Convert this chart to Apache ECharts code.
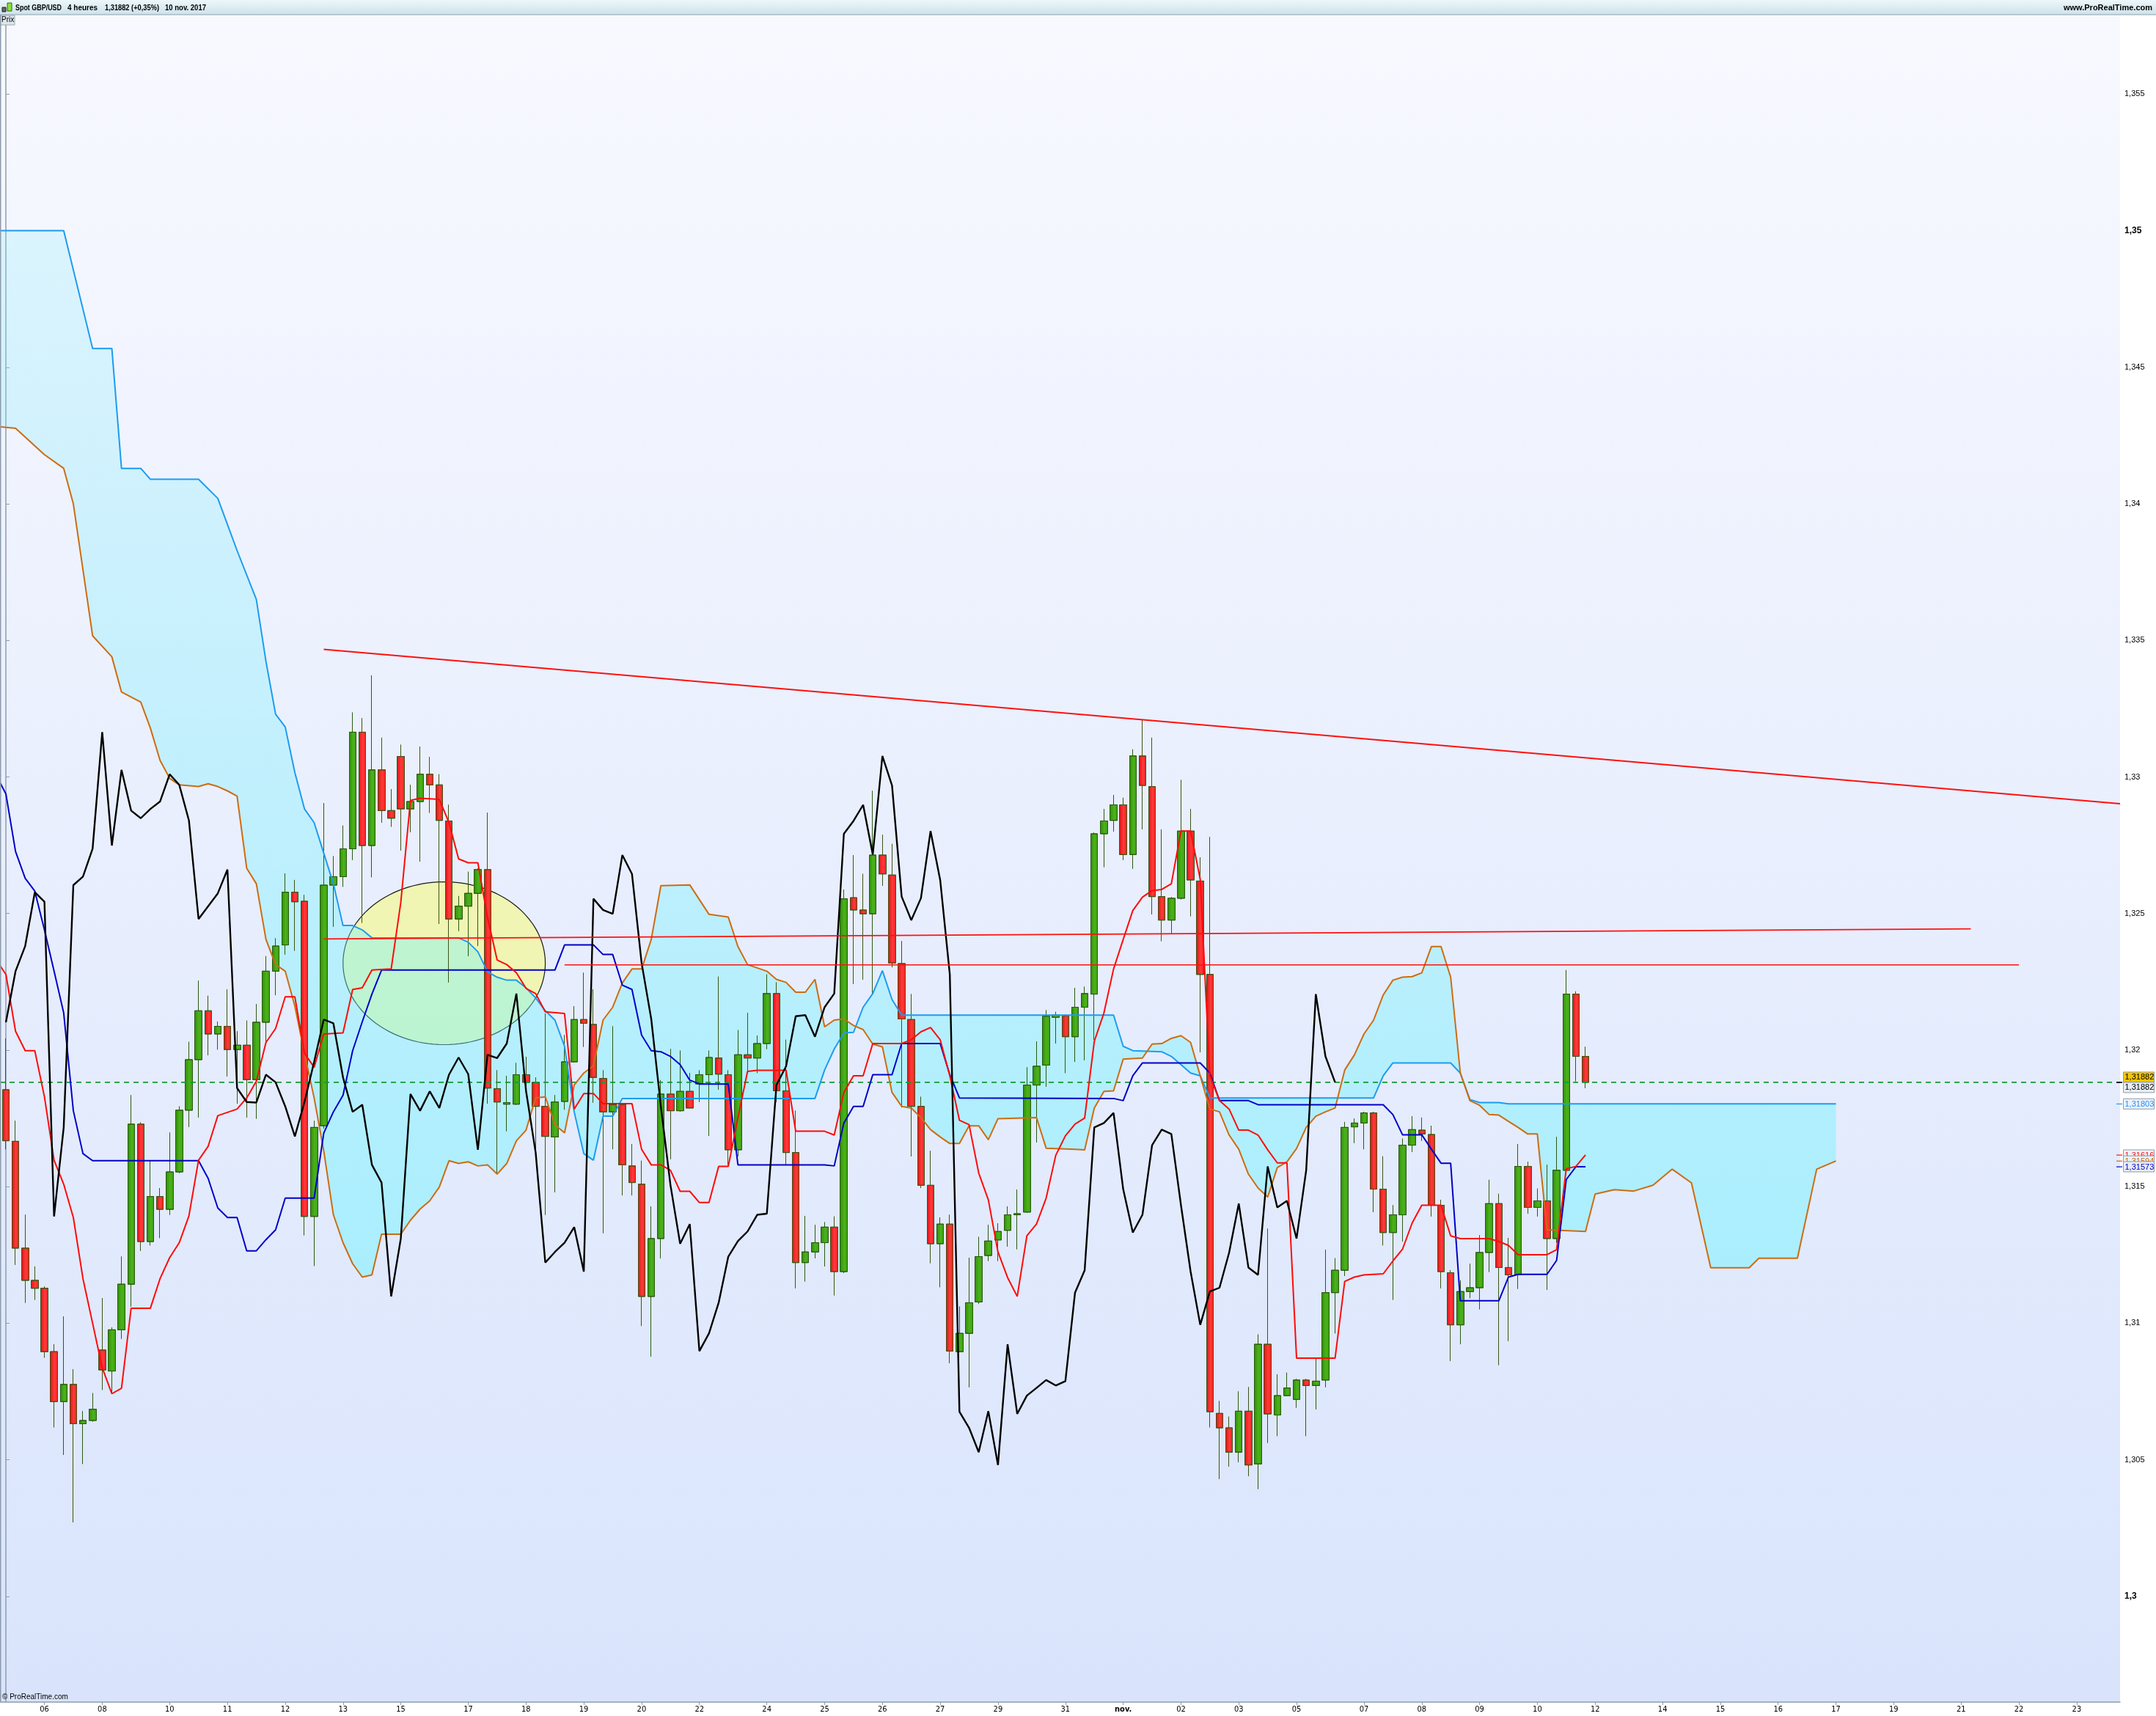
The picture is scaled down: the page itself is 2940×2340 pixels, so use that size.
<!DOCTYPE html>
<html><head><meta charset="utf-8">
<script src="https://cdn.jsdelivr.net/npm/echarts@6/dist/echarts.min.js"></script>
<style>html,body{margin:0;padding:0;background:#fff}#c{width:2940px;height:2340px}</style>
</head><body><div id="c"></div>
<script>
// ---------- DATA ----------
const opens = [1.31855,1.31666,1.31275,1.31157,1.31128,1.30896,1.30713,1.30776,1.30632,1.30644,
1.30902,1.30825,1.30976,1.31143,1.31729,1.31299,1.31464,1.31417,1.31554,1.31780,
1.31965,1.32144,1.32059,1.32087,1.32002,1.32018,1.31892,1.32102,1.32289,1.32385,
1.32578,1.32545,1.31391,1.31723,1.32604,1.32635,1.32737,1.33164,1.32749,1.33026,
1.32877,1.33075,1.32883,1.32910,1.33010,1.32971,1.32839,1.32480,1.32527,1.32574,
1.32661,1.31859,1.31802,1.31802,1.31910,1.31882,1.31794,1.31682,1.31812,1.31957,
1.32112,1.32094,1.31896,1.31774,1.31800,1.31576,1.31509,1.31098,1.31310,1.31839,
1.31778,1.31849,1.31876,1.31910,1.31971,1.31910,1.31635,1.31983,1.31971,1.32024,
1.32207,1.31851,1.31625,1.31222,1.31261,1.31295,1.31352,1.31189,1.32558,1.32513,
1.32499,1.32714,1.32641,1.32317,1.32112,1.31794,1.31505,1.31291,1.31363,1.30896,
1.30963,1.31078,1.31248,1.31305,1.31340,1.31397,1.31407,1.31872,1.31945,1.32120,
1.32126,1.32049,1.32157,1.32205,1.32792,1.32841,1.32898,1.32716,1.33077,1.32965,
1.32562,1.32476,1.32556,1.32802,1.32619,1.32277,1.30670,1.30617,1.30528,1.30678,
1.30485,1.30923,1.30664,1.30735,1.30721,1.30792,1.30772,1.30792,1.31112,1.31194,
1.31719,1.31733,1.31770,1.31491,1.31332,1.31397,1.31652,1.31707,1.31691,1.31432,
1.31185,1.30994,1.31116,1.31130,1.31259,1.31438,1.31204,1.31177,1.31574,1.31424,
1.31448,1.31310,1.31560,1.32205,1.31977];
const highs = [1.32043,1.31741,1.31397,1.31208,1.31135,1.30923,1.31025,1.30831,1.30678,1.30744,
1.31092,1.30985,1.31244,1.31835,1.31735,1.31597,1.31495,1.31698,1.31794,1.32030,
1.32254,1.32199,1.32104,1.32222,1.32069,1.32108,1.32169,1.32344,1.32409,1.32647,
1.32623,1.32568,1.31741,1.32904,1.32710,1.32822,1.33236,1.33215,1.33372,1.33144,
1.32955,1.33118,1.32971,1.33111,1.33073,1.33010,1.32898,1.32564,1.32653,1.32665,
1.32869,1.31926,1.31906,1.31953,1.31975,1.31900,1.32134,1.31835,1.32055,1.32161,
1.32283,1.32222,1.31926,1.32087,1.31805,1.31656,1.31595,1.31428,1.31890,1.32004,
1.31998,1.31916,1.31926,1.31998,1.32269,1.31926,1.32073,1.32136,1.32053,1.32277,
1.32248,1.32038,1.31778,1.31393,1.31360,1.31370,1.31391,1.32588,1.32714,1.32645,
1.32949,1.32788,1.32755,1.32399,1.32205,1.31829,1.31631,1.31387,1.31397,1.31061,
1.31240,1.31316,1.31360,1.31366,1.31428,1.31489,1.31937,1.32032,1.32146,1.32140,
1.32130,1.32228,1.32232,1.32796,1.32883,1.32934,1.32924,1.33101,1.33209,1.33144,
1.32808,1.32560,1.32989,1.32883,1.32706,1.32780,1.30715,1.30658,1.30750,1.30766,
1.30959,1.31346,1.30813,1.30819,1.30796,1.30796,1.30874,1.31269,1.31238,1.31737,
1.31749,1.31774,1.31774,1.31611,1.31432,1.31676,1.31758,1.31753,1.31723,1.31452,
1.31194,1.31157,1.31218,1.31322,1.31525,1.31474,1.31312,1.31656,1.31591,1.31493,
1.31580,1.31682,1.32293,1.32215,1.32012];
const lows = [1.31637,1.31214,1.31075,1.31086,1.30874,1.30619,1.30518,1.30271,1.30485,1.30640,
1.30756,1.30746,1.30943,1.31061,1.31265,1.31285,1.31312,1.31397,1.31550,1.31719,
1.31753,1.31981,1.32002,1.31904,1.31804,1.31753,1.31749,1.32026,1.32201,1.32350,
1.32364,1.31322,1.31210,1.31713,1.32452,1.32598,1.32696,1.32466,1.32633,1.32833,
1.32818,1.32731,1.32798,1.32690,1.32869,1.32462,1.32248,1.32436,1.32344,1.32381,
1.31804,1.31550,1.31703,1.31800,1.31861,1.31631,1.31397,1.31479,1.31782,1.31955,
1.32012,1.31808,1.31330,1.31637,1.31468,1.31468,1.30990,1.30878,1.31238,1.31601,
1.31775,1.31788,1.31810,1.31686,1.31855,1.31580,1.31611,1.31916,1.31916,1.32004,
1.31810,1.31580,1.31128,1.31153,1.31238,1.31208,1.31102,1.31184,1.32242,1.32258,
1.32207,1.32602,1.32303,1.31790,1.31611,1.31495,1.31220,1.31132,1.30854,1.30894,
1.30766,1.31071,1.31228,1.31228,1.31281,1.31271,1.31405,1.31662,1.31866,1.32024,
1.31916,1.31957,1.31963,1.32038,1.32670,1.32800,1.32696,1.32664,1.32808,1.32497,
1.32399,1.32425,1.32552,1.32490,1.31992,1.30619,1.30430,1.30475,1.30491,1.30440,
1.30393,1.30562,1.30587,1.30733,1.30691,1.30587,1.30685,1.30766,1.30963,1.31173,
1.31660,1.31637,1.31407,1.31285,1.31086,1.31299,1.31627,1.31668,1.31391,1.31128,
1.30862,1.30923,1.31092,1.31051,1.31188,1.30847,1.30935,1.31126,1.31401,1.31391,
1.31122,1.31295,1.31558,1.31886,1.31861];
const closes = [1.31668,1.31275,1.31157,1.31128,1.30896,1.30713,1.30776,1.30632,1.30644,1.30685,
1.30829,1.30976,1.31143,1.31729,1.31299,1.31464,1.31417,1.31554,1.31780,1.31965,
1.32144,1.32059,1.32087,1.32002,1.32018,1.31892,1.32102,1.32289,1.32381,1.32578,
1.32543,1.31391,1.31717,1.32604,1.32635,1.32737,1.33164,1.32749,1.33026,1.32877,
1.32849,1.32883,1.32910,1.33010,1.32971,1.32841,1.32480,1.32527,1.32574,1.32661,
1.31861,1.31810,1.31808,1.31910,1.31882,1.31794,1.31684,1.31810,1.31957,1.32112,
1.32098,1.31900,1.31774,1.31800,1.31580,1.31515,1.31098,1.31310,1.31839,1.31778,
1.31849,1.31788,1.31910,1.31973,1.31912,1.31635,1.31983,1.31971,1.32024,1.32207,
1.31851,1.31625,1.31222,1.31261,1.31295,1.31352,1.31189,1.32554,1.32513,1.32499,
1.32714,1.32645,1.32319,1.32114,1.31794,1.31505,1.31291,1.31363,1.30898,1.30963,
1.31075,1.31244,1.31301,1.31336,1.31397,1.31401,1.31872,1.31941,1.32124,1.32128,
1.32049,1.32157,1.32207,1.32792,1.32839,1.32898,1.32716,1.33077,1.32969,1.32562,
1.32476,1.32556,1.32802,1.32623,1.32277,1.30676,1.30617,1.30528,1.30678,1.30481,
1.30923,1.30668,1.30735,1.30763,1.30792,1.30772,1.30788,1.31112,1.31194,1.31717,
1.31733,1.31770,1.31491,1.31332,1.31397,1.31652,1.31709,1.31693,1.31432,1.31189,
1.30994,1.31116,1.31130,1.31259,1.31438,1.31204,1.31177,1.31574,1.31424,1.31448,
1.31310,1.31560,1.32205,1.31977,1.31882];

// Ichimoku lines: [bar index, price] vertices
const tenkan = [[-0.61,1.32309],[0,1.32277],[1,1.32069],[2,1.31998],[3,1.31998],[4,1.31829],[5,1.31597],[6,1.31509],[7,1.31387],[8,1.31163],[9,1.31000],[10,1.30837],[11,1.30742],[12,1.30762],[13,1.31055],[15,1.31055],[16,1.31163],[17,1.31240],[18,1.31295],[19,1.31393],[20,1.31597],[21,1.31648],[22,1.31760],[23,1.31772],[24,1.31784],[25,1.31825],[26,1.31886],[27,1.32028],[28,1.32079],[29,1.32195],[30,1.32195],[31,1.31988],[32,1.31937],[33,1.32059],[35,1.32063],[36,1.32222],[37,1.32228],[38,1.32293],[40,1.32297],[41,1.32541],[42,1.32914],[43,1.32922],[45,1.32918],[46,1.32833],[47,1.32700],[48,1.32686],[49,1.32686],[50,1.32486],[51,1.32330],[52,1.32313],[53,1.32283],[54,1.32226],[55,1.32207],[56,1.32140],[58,1.32134],[59,1.31784],[60,1.31841],[61,1.31841],[62,1.31804],[65,1.31804],[66,1.31637],[67,1.31580],[68,1.31580],[69,1.31560],[70,1.31483],[71,1.31483],[72,1.31442],[73,1.31442],[74,1.31574],[75,1.31574],[76,1.31753],[77,1.31922],[78,1.31926],[81,1.31926],[82,1.31703],[85,1.31703],[86,1.31689],[87,1.31845],[88,1.31906],[89,1.31906],[90,1.32024],[93,1.32024],[94,1.32038],[95,1.32067],[96,1.32083],[97,1.32038],[98,1.31906],[99,1.31743],[100,1.31727],[101,1.31550],[102,1.31452],[103,1.31261],[104,1.31167],[105,1.31098],[106,1.31320],[107,1.31363],[108,1.31458],[109,1.31615],[110,1.31686],[111,1.31729],[112,1.31751],[113,1.32032],[114,1.32136],[115,1.32297],[116,1.32405],[117,1.32511],[118,1.32560],[119,1.32584],[120,1.32588],[121,1.32609],[122,1.32802],[123,1.32802],[124,1.32625],[125,1.31906],[126,1.31815],[127,1.31784],[128,1.31707],[129,1.31707],[130,1.31689],[131,1.31635],[132,1.31587],[133,1.31587],[134,1.30872],[138,1.30872],[139,1.31153],[140,1.31169],[141,1.31177],[142,1.31179],[143,1.31181],[144,1.31228],[145,1.31271],[146,1.31367],[147,1.31432],[149,1.31432],[150,1.31320],[151,1.31310],[154,1.31310],[155,1.31299],[156,1.31285],[157,1.31251],[160,1.31251],[161,1.31269],[162,1.31566],[163,1.31574],[164,1.31616]];
const kijun = [[-0.61,1.32979],[0,1.32938],[1,1.32727],[2,1.32629],[3,1.32582],[4,1.32440],[5,1.32289],[6,1.32136],[7,1.31778],[8,1.31621],[9,1.31595],[20,1.31595],[21,1.31530],[22,1.31422],[23,1.31387],[24,1.31387],[25,1.31265],[26,1.31265],[27,1.31306],[28,1.31342],[29,1.31458],[32,1.31458],[33,1.31696],[34,1.31774],[35,1.31835],[36,1.31998],[37,1.32104],[38,1.32205],[39,1.32293],[57,1.32293],[58,1.32385],[61,1.32385],[62,1.32350],[63,1.32350],[64,1.32238],[65,1.32222],[66,1.32055],[67,1.31998],[68,1.31994],[69,1.31977],[70,1.31947],[71,1.31890],[72,1.31876],[75,1.31876],[76,1.31580],[85,1.31580],[86,1.31576],[87,1.31733],[88,1.31794],[89,1.31794],[90,1.31910],[92,1.31910],[93,1.32024],[97,1.32024],[98,1.31910],[99,1.31825],[115,1.31823],[116,1.31815],[117,1.31906],[118,1.31953],[124,1.31953],[125,1.31916],[126,1.31815],[129,1.31815],[130,1.31800],[143,1.31800],[144,1.31764],[145,1.31690],[147,1.31690],[148,1.31637],[149,1.31586],[150,1.31586],[151,1.31082],[155,1.31082],[156,1.31169],[157,1.31179],[160,1.31179],[161,1.31230],[162,1.31526],[163,1.31573],[164,1.31573]];
const spanA = [[-0.61,1.35000],[6,1.35000],[9,1.34569],[11,1.34569],[12,1.34130],[14,1.34130],[15,1.34090],[20,1.34090],[22,1.34020],[24,1.33829],[26,1.33650],[27,1.33423],[28,1.33230],[29,1.33183],[30,1.33016],[31,1.32883],[32,1.32833],[33,1.32721],[34,1.32609],[35,1.32456],[36,1.32456],[37,1.32440],[38,1.32411],[47,1.32411],[48,1.32395],[49,1.32360],[50,1.32287],[51,1.32267],[52,1.32256],[53,1.32256],[54,1.32228],[55,1.32191],[56,1.32144],[57,1.32110],[58,1.32014],[59,1.31774],[60,1.31621],[61,1.31597],[62,1.31758],[63,1.31758],[64,1.31823],[84,1.31823],[85,1.31927],[86,1.32004],[87,1.32063],[88,1.32065],[89,1.32157],[90,1.32207],[91,1.32291],[92,1.32185],[93,1.32128],[115,1.32128],[116,1.32014],[117,1.31998],[120,1.31994],[121,1.31977],[122,1.31947],[123,1.31916],[124,1.31906],[125,1.31825],[142,1.31825],[143,1.31906],[144,1.31953],[150,1.31953],[151,1.31916],[152,1.31819],[153,1.31808],[155,1.31808],[156,1.31803],[190,1.31803]];
const spanB = [[-0.61,1.34282],[1,1.34277],[4,1.34180],[6,1.34130],[7,1.34000],[9,1.33517],[11,1.33440],[12,1.33311],[14,1.33274],[15,1.33179],[16,1.33061],[17,1.32995],[18,1.32971],[20,1.32965],[21,1.32975],[22,1.32965],[23,1.32949],[24,1.32930],[25,1.32666],[26,1.32609],[27,1.32405],[28,1.32313],[29,1.32289],[30,1.32161],[31,1.31988],[32,1.31825],[33,1.31631],[34,1.31397],[35,1.31295],[36,1.31218],[37,1.31169],[38,1.31177],[39,1.31326],[41,1.31326],[42,1.31377],[43,1.31418],[44,1.31448],[45,1.31499],[46,1.31595],[47,1.31585],[48,1.31591],[49,1.31576],[50,1.31580],[51,1.31546],[52,1.31585],[53,1.31668],[54,1.31707],[55,1.31825],[56,1.31829],[57,1.31727],[58,1.31697],[59,1.31872],[60,1.31916],[61,1.31943],[62,1.32110],[63,1.32157],[64,1.32246],[65,1.32297],[66,1.32297],[67,1.32405],[68,1.32602],[71,1.32605],[73,1.32497],[75,1.32487],[76,1.32379],[77,1.32313],[79,1.32289],[80,1.32259],[81,1.32248],[82,1.32212],[83,1.32212],[84,1.32259],[85,1.32085],[86,1.32110],[87,1.32114],[88,1.32090],[89,1.32075],[90,1.32022],[91,1.32012],[92,1.31845],[93,1.31794],[94,1.31788],[95,1.31753],[96,1.31709],[97,1.31682],[98,1.31658],[99,1.31658],[100,1.31723],[101,1.31723],[102,1.31672],[103,1.31749],[107,1.31753],[108,1.31641],[111,1.31637],[112,1.31635],[113,1.31788],[114,1.31849],[115,1.31851],[116,1.31967],[118,1.31971],[119,1.32022],[120,1.32024],[121,1.32043],[122,1.32053],[123,1.32028],[124,1.31906],[125,1.31784],[126,1.31774],[127,1.31689],[128,1.31637],[129,1.31546],[130,1.31495],[131,1.31462],[132,1.31570],[133,1.31591],[134,1.31640],[135,1.31717],[136,1.31758],[137,1.31774],[138,1.31788],[139,1.31927],[140,1.31982],[141,1.32059],[142,1.32110],[143,1.32202],[144,1.32256],[145,1.32267],[146,1.32269],[147,1.32283],[148,1.32379],[149,1.32379],[150,1.32267],[151,1.31916],[152,1.31815],[153,1.31798],[154,1.31764],[155,1.31762],[156,1.31739],[157,1.31717],[158,1.31693],[159,1.31693],[160,1.31342],[164,1.31336],[165,1.31473],[167,1.31489],[169,1.31484],[171,1.31505],[173,1.31564],[175,1.31514],[177,1.31203],[181,1.31203],[182,1.31238],[186,1.31238],[188,1.31564],[190,1.31594]];
const chikouShift = 26;

// hand-drawn annotations
const trendLines = [
  [[33,1.33467],[219.5,1.32902]],
  [[33,1.32407],[204,1.32444]],
  [[58,1.32312],[209,1.32312]]
];
const ellipseCenter = [45.5, 1.32318];
const ellipseHalf = [10.5, 0.00298];

// axes
const xTickIdx = [4,10,17,23,29,35,41,48,54,60,66,72,79,85,91,97,103,110,116,122,128,134,141,147,153,159,165,172,178,184,190,196,203,209,215];
const xTickLabels = ['06','08','10','11','12','13','15','17','18','19','20','22','24','25','26','27','29','31','nov.','02','03','05','07','08','09','10','12','14','15','16','17','19','21','22','23'];
const yTicks = [1.3,1.305,1.31,1.315,1.32,1.325,1.33,1.335,1.34,1.345,1.35,1.355];
const yTickLabels = ['1,3','1,305','1,31','1,315','1,32','1,325','1,33','1,335','1,34','1,345','1,35','1,355'];
const lastPrice = 1.31882;
const tagValues = [1.31882, 1.31882, 1.31803, 1.31616, 1.31594, 1.31573];
const tagTexts = ['1,31882','1,31882','1,31803','1,31616','1,31594','1,31573'];
const headerTexts = ['Spot GBP/USD','4 heures','1,31882 (+0,35%)','10 nov. 2017'];
const siteText = 'www.ProRealTime.com';
const xMin = -0.614, xMax = 219.5;

// ---------- CHART ----------
const chart = echarts.init(document.getElementById('c'), null, {renderer:'canvas'});
const FONT = 'Liberation Sans, Arial, sans-serif';
const candleData = opens.map((o,i)=>[i, o, closes[i], lows[i], highs[i]]);
const chikou = closes.slice(chikouShift).map((c,k)=>[k, c]);

function lineSeries(data, color, width, z, type){
  return {type:'line', data, showSymbol:false, symbol:'none', smooth:false, z: z||4,
    lineStyle:{color, width, type: type||'solid'}, silent:true, animation:false};
}

const option = {
  animation:false,
  backgroundColor:'#ffffff',
  grid:{left:0, right:49, top:20, bottom:19, show:true, borderWidth:0,
    backgroundColor:{type:'linear',x:0,y:0,x2:0,y2:1,colorStops:[{offset:0,color:'#f8f9ff'},{offset:1,color:'#d9e4fc'}]}},
  xAxis:{type:'value', min:xMin, max:xMax,
    axisLine:{show:true, lineStyle:{color:'#8c9cae', width:1.5}},
    axisTick:{show:true, customValues:xTickIdx, length:4, lineStyle:{color:'#8c9cae'}},
    splitLine:{show:false},
    axisLabel:{customValues:xTickIdx, margin:5, fontSize:11, color:'#000', fontFamily:'DejaVu Sans Condensed, sans-serif',
      formatter:v=>{const k=xTickIdx.indexOf(Math.round(v)); const s=xTickLabels[k]||''; return s==='nov.'?'{b|'+s+'}':s;},
      rich:{b:{fontWeight:'bold', fontSize:11, fontFamily:'DejaVu Sans Condensed, sans-serif'}}}
  },
  yAxis:{type:'value', position:'right', min:1.29613, max:1.35791, scale:true,
    axisLine:{show:true, lineStyle:{color:'#8c9cae', width:1.5}},
    axisTick:{show:true, customValues:yTicks, length:5, lineStyle:{color:'#8c9cae'}},
    splitLine:{show:false},
    axisLabel:{customValues:yTicks, margin:6, fontSize:11, color:'#000', fontFamily:FONT,
      formatter:v=>{const k=yTicks.findIndex(t=>Math.abs(t-v)<1e-7); const s=yTickLabels[k]||''; return (s==='1,3'||s==='1,35')?'{b|'+s+'}':s;},
      rich:{b:{fontWeight:'bold', fontSize:12, fontFamily:FONT}}}
  },
  series:[
    {type:'custom', z:1, silent:true, data:[[0,1.32]],
      renderItem:(p,api)=>{
        const c=api.coord(ellipseCenter); const s=api.size(ellipseHalf);
        const pts=[]; for(let k=0;k<=120;k++){const a=k/120*Math.PI*2; pts.push([c[0]+s[0]*Math.cos(a), c[1]+s[1]*Math.sin(a)]);}
        return {type:'polygon', shape:{points:pts}, style:{fill:'#f0f5b4', stroke:'#1a1a1a', lineWidth:1.2}};
      }},
    {type:'custom', z:2, silent:true, data:[[0,1.32]],
      renderItem:(p,api)=>{
        const top=spanA.map(q=>api.coord(q));
        const bot=spanB.slice().reverse().map(q=>api.coord(q));
        const y1=api.coord([0,1.35])[1], y2=api.coord([0,1.312])[1];
        return {type:'polygon', shape:{points:top.concat(bot)},
          style:{fill:new echarts.graphic.LinearGradient(0,y1,0,y2,[{offset:0,color:'rgba(130,235,250,0.22)'},{offset:1,color:'rgba(105,245,255,0.46)'}],true)}};
      }},
    {type:'candlestick', z:3, data:candleData, barWidth:10, silent:true,
      encode:{x:0, y:[1,2,3,4]},
      itemStyle:{
        color:{type:'linear',x:0,y:0,x2:1,y2:0,colorStops:[{offset:0,color:'#2f8a0b'},{offset:0.55,color:'#4bb31a'},{offset:1,color:'#3c9d12'}]},
        color0:{type:'linear',x:0,y:0,x2:1,y2:0,colorStops:[{offset:0,color:'#d81212'},{offset:0.55,color:'#ff3a3a'},{offset:1,color:'#ff2020'}]},
        borderColor:'#2c5a10', borderColor0:'#3e5414', borderColorDoji:'#2c5a10', borderWidth:1}
    },
    lineSeries([[xMin,lastPrice],[xMax,lastPrice]], '#12993a', 1.6, 4, [7,6]),
    lineSeries(spanA, '#1c9cf0', 2, 4),
    lineSeries(spanB, '#cc6c12', 2, 4),
    lineSeries(kijun, '#0000c8', 2, 4),
    lineSeries(tenkan, '#ff0a0a', 2, 4),
    lineSeries(chikou, '#000000', 2.4, 4),
    lineSeries(trendLines[0], '#ff1010', 2, 5),
    lineSeries(trendLines[1], '#ff1010', 1.8, 5),
    lineSeries(trendLines[2], '#ff1010', 1.5, 5)
  ]
};
chart.setOption(option);

// ---------- overlay graphics ----------
const g = [];
const HFONT = 'bold 11px Liberation Sans, Arial, sans-serif';
const mctx = document.createElement('canvas').getContext('2d');
mctx.font = HFONT;
function fitText(txt, x, w, align){
  const mw = mctx.measureText(txt).width || w;
  const sx = Math.min(1, w / mw);
  return {type:'text', x:x, y:10.5, scaleX:sx, style:{text:txt, fill:'#000', font:HFONT, textVerticalAlign:'middle', textAlign:align||'left'}, z:12};
}
// header bar
g.push({type:'rect', shape:{x:0,y:0,width:2940,height:20}, style:{fill:{type:'linear',x:0,y:0,x2:0,y2:1,colorStops:[{offset:0,color:'#ecf7fb'},{offset:1,color:'#cde2ea'}]}}, z:10});
g.push({type:'rect', shape:{x:0,y:19.5,width:2940,height:1}, style:{fill:'#8fa2ae'}, z:11});
g.push({type:'rect', shape:{x:3,y:10,width:5,height:6}, style:{fill:'#666', stroke:'#222', lineWidth:1}, z:11});
g.push({type:'rect', shape:{x:10,y:4,width:6,height:11}, style:{fill:'#8fe03a', stroke:'#2a6a0a', lineWidth:1}, z:11});
const hdrPos = [[21,63],[92,41],[143,74],[225,56]];
headerTexts.forEach((t,k)=>g.push(fitText(t, hdrPos[k][0], hdrPos[k][1], 'left')));
g.push(fitText(siteText, 2935, 128, 'right'));
// Prix tag
g.push({type:'rect', shape:{x:0,y:21,width:20,height:13}, style:{fill:'#dfe5ea', stroke:'#9aa8b4', lineWidth:1}, z:12});
g.push({type:'text', x:2, y:27.5, style:{text:'Prix', fill:'#000', font:'10px '+FONT, textVerticalAlign:'middle'}, z:13});
// left border
g.push({type:'rect', shape:{x:0,y:20,width:1.5,height:2301}, style:{fill:'#8c9cae'}, z:12});
// copyright
g.push({type:'text', x:3, y:2314, style:{text:'© ProRealTime.com', fill:'#000', font:'10px '+FONT, textVerticalAlign:'middle'}, z:12});
// price tags on axis
const tagStyle = [
  {bg:'#f7c600', fg:'#000', tick:'#000', dy:-7},
  {bg:'#e8edf4', fg:'#000', tick:'#000', dy:7},
  {bg:'#edf2f9', fg:'#1e90ff', tick:'#1e90ff', dy:0},
  {bg:'#edf1f7', fg:'#ff1010', tick:'#ff1010', dy:0},
  {bg:'#edf1f7', fg:'#c8690f', tick:'#c8690f', dy:0},
  {bg:'#e8edf4', fg:'#0000c0', tick:'#0000c0', dy:0}
];
tagValues.forEach((v,k)=>{
  const py = chart.convertToPixel({gridIndex:0}, [0, v])[1];
  const st = tagStyle[k];
  const cy = py + st.dy;
  g.push({type:'rect', shape:{x:2886,y:py-0.5,width:8,height:1.2}, style:{fill:st.tick}, z:14+k});
  g.push({type:'rect', shape:{x:2895.5,y:cy-7,width:42,height:14}, style:{fill:st.bg, stroke:'#8e9cac', lineWidth:1}, z:14+k});
  g.push({type:'text', x:2897.5, y:cy+0.5, style:{text:tagTexts[k], fill:st.fg, font:'11px '+FONT, textVerticalAlign:'middle'}, z:14+k});
});
chart.setOption({graphic:g});
</script>
</body></html>
